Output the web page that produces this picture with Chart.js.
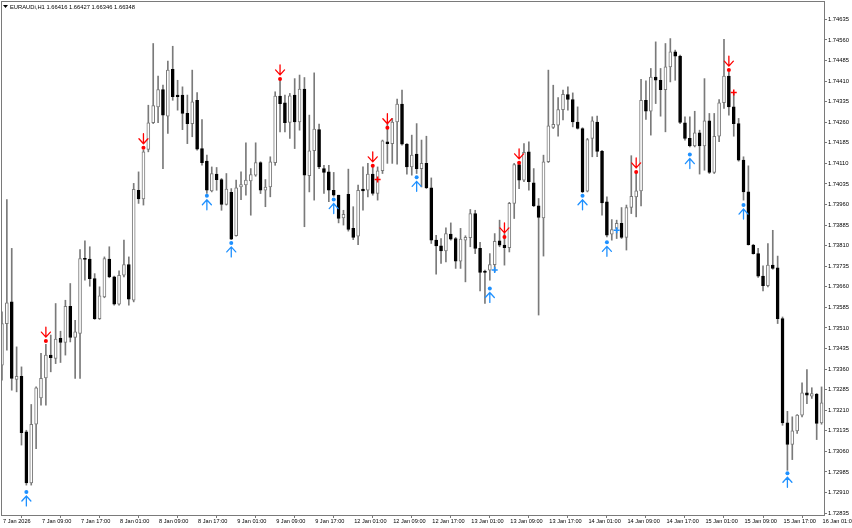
<!DOCTYPE html>
<html>
<head>
<meta charset="utf-8">
<script src="https://cdn.jsdelivr.net/npm/chart.js@4.4.1/dist/chart.umd.min.js"></script>
<style>
  html, body { margin: 0; padding: 0; background: #fff; }
</style>
</head>
<body>
<canvas id="chart" width="852" height="528"></canvas>
<script>
// EURAUDi H1 candles (bar 0 = 7 Jan 01:00, bar 168 = 16 Jan 01:00)
const opens = [
  1.73374, 1.73526, 1.73605, 1.73322, 1.73334, 1.73131, 1.72945, 1.73159, 1.73255, 1.73328,
  1.73411, 1.73399, 1.73472, 1.73457, 1.73589, 1.73475, 1.73490, 1.73763, 1.73761, 1.73690,
  1.73544, 1.73623, 1.73761, 1.73696, 1.73597, 1.73702, 1.73741, 1.73611, 1.74012, 1.73980,
  1.74161, 1.74258, 1.74316, 1.74379, 1.74282, 1.74453, 1.74359, 1.74359, 1.74292, 1.74255,
  1.74340, 1.74164, 1.74118, 1.74010, 1.74071, 1.74051, 1.73960, 1.74004, 1.73846, 1.74024,
  1.74031, 1.74046, 1.74067, 1.74113, 1.74012, 1.74024, 1.74113, 1.74355, 1.74331, 1.74259,
  1.74359, 1.74261, 1.74381, 1.74065, 1.74156, 1.74233, 1.74091, 1.74079, 1.74012, 1.73994,
  1.73911, 1.73997, 1.73873, 1.73845, 1.74016, 1.74012, 1.74071, 1.74000, 1.74083, 1.74189,
  1.74182, 1.74261, 1.74326, 1.74180, 1.74097, 1.74144, 1.74091, 1.74110, 1.74021, 1.73830,
  1.73809, 1.73791, 1.73852, 1.73836, 1.73753, 1.73830, 1.73839, 1.73927, 1.73800, 1.73717,
  1.73721, 1.73741, 1.73828, 1.73812, 1.73803, 1.73964, 1.74106, 1.74049, 1.74152, 1.74039,
  1.73955, 1.73911, 1.74116, 1.74241, 1.74249, 1.74306, 1.74361, 1.74343, 1.74261, 1.74237,
  1.74009, 1.74201, 1.74261, 1.74154, 1.73970, 1.73852, 1.73873, 1.73891, 1.73840, 1.73949,
  1.73988, 1.74010, 1.74340, 1.74300, 1.74425, 1.74413, 1.74379, 1.74462, 1.74517, 1.74501,
  1.74258, 1.74201, 1.74174, 1.74221, 1.74174, 1.74265, 1.74077, 1.74209, 1.74331, 1.74428,
  1.74316, 1.74255, 1.74122, 1.74006, 1.73812, 1.73781, 1.73699, 1.73664, 1.73739, 1.73729,
  1.73544, 1.73164, 1.73085, 1.73135, 1.73192, 1.73273, 1.73261, 1.73269, 1.73164
]
const highs = [
  1.73569, 1.73978, 1.73800, 1.73441, 1.73368, 1.73137, 1.73231, 1.73295, 1.73417, 1.73450,
  1.73484, 1.73599, 1.73498, 1.73611, 1.73672, 1.73538, 1.73796, 1.73828, 1.73806, 1.73708,
  1.73660, 1.73769, 1.73806, 1.73699, 1.73718, 1.73830, 1.73769, 1.74037, 1.74079, 1.74158,
  1.74322, 1.74547, 1.74428, 1.74395, 1.74483, 1.74537, 1.74413, 1.74389, 1.74359, 1.74450,
  1.74368, 1.74270, 1.74140, 1.74097, 1.74095, 1.74055, 1.74073, 1.74018, 1.74049, 1.74079,
  1.74185, 1.74091, 1.74185, 1.74116, 1.74051, 1.74134, 1.74371, 1.74413, 1.74359, 1.74365,
  1.74419, 1.74432, 1.74423, 1.74286, 1.74440, 1.74253, 1.74103, 1.74103, 1.74077, 1.73994,
  1.73939, 1.74089, 1.73952, 1.74031, 1.74097, 1.74110, 1.74097, 1.74097, 1.74195, 1.74253,
  1.74274, 1.74344, 1.74377, 1.74182, 1.74213, 1.74255, 1.74195, 1.74209, 1.74057, 1.73848,
  1.73836, 1.73875, 1.73893, 1.73840, 1.73873, 1.73846, 1.73942, 1.73939, 1.73822, 1.73721,
  1.73781, 1.73854, 1.73903, 1.73854, 1.73968, 1.74110, 1.74112, 1.74182, 1.74189, 1.74091,
  1.73982, 1.74140, 1.74450, 1.74395, 1.74350, 1.74377, 1.74389, 1.74367, 1.74316, 1.74240,
  1.74201, 1.74280, 1.74282, 1.74158, 1.73988, 1.73905, 1.73903, 1.73949, 1.73958, 1.74138,
  1.74079, 1.74416, 1.74411, 1.74456, 1.74553, 1.74456, 1.74547, 1.74565, 1.74523, 1.74505,
  1.74280, 1.74280, 1.74300, 1.74231, 1.74419, 1.74292, 1.74292, 1.74343, 1.74562, 1.74444,
  1.74365, 1.74274, 1.74134, 1.74101, 1.73815, 1.73800, 1.73736, 1.73818, 1.73866, 1.73772,
  1.73550, 1.73206, 1.73186, 1.73194, 1.73310, 1.73358, 1.73292, 1.73271, 1.73295
]
const lows = [
  1.73320, 1.73429, 1.73283, 1.73277, 1.73083, 1.72937, 1.72937, 1.73070, 1.73228, 1.73228,
  1.73350, 1.73380, 1.73384, 1.73411, 1.73459, 1.73326, 1.73326, 1.73684, 1.73662, 1.73541,
  1.73541, 1.73620, 1.73693, 1.73593, 1.73593, 1.73696, 1.73593, 1.73605, 1.73964, 1.73958,
  1.74152, 1.74255, 1.74258, 1.74091, 1.74219, 1.74340, 1.74304, 1.74233, 1.74182, 1.74207,
  1.74158, 1.74103, 1.74000, 1.74006, 1.74012, 1.73939, 1.73958, 1.73832, 1.73845, 1.73978,
  1.73994, 1.73921, 1.74063, 1.74000, 1.73952, 1.73988, 1.74103, 1.74225, 1.74225, 1.74201,
  1.74164, 1.74231, 1.73879, 1.74006, 1.73976, 1.74091, 1.74000, 1.73970, 1.73990, 1.73893,
  1.73885, 1.73863, 1.73832, 1.73814, 1.73939, 1.73988, 1.73994, 1.73976, 1.74073, 1.74110,
  1.74110, 1.74107, 1.74176, 1.74071, 1.74067, 1.74073, 1.74024, 1.74018, 1.73818, 1.73706,
  1.73745, 1.73751, 1.73830, 1.73727, 1.73727, 1.73678, 1.73806, 1.73781, 1.73645, 1.73599,
  1.73684, 1.73715, 1.73806, 1.73739, 1.73787, 1.73909, 1.74018, 1.74043, 1.74012, 1.73952,
  1.73557, 1.73772, 1.74113, 1.74237, 1.74209, 1.74268, 1.74304, 1.74243, 1.74235, 1.74003,
  1.74006, 1.74134, 1.74134, 1.73921, 1.73842, 1.73830, 1.73836, 1.73836, 1.73794, 1.73927,
  1.73915, 1.73955, 1.74270, 1.74213, 1.74328, 1.74282, 1.74225, 1.74407, 1.74413, 1.74255,
  1.74195, 1.74170, 1.74170, 1.74071, 1.74085, 1.74073, 1.74073, 1.74189, 1.74310, 1.74286,
  1.74209, 1.74118, 1.73976, 1.73812, 1.73779, 1.73694, 1.73645, 1.73660, 1.73724, 1.73526,
  1.73155, 1.72991, 1.73030, 1.73125, 1.73186, 1.73234, 1.73253, 1.73103, 1.73159
]
const closes = [
  1.73526, 1.73602, 1.73326, 1.73334, 1.73128, 1.72945, 1.73159, 1.73292, 1.73326, 1.73411,
  1.73402, 1.73469, 1.73457, 1.73589, 1.73475, 1.73496, 1.73763, 1.73760, 1.73690, 1.73544,
  1.73627, 1.73763, 1.73696, 1.73597, 1.73702, 1.73741, 1.73615, 1.74015, 1.73980, 1.74152,
  1.74258, 1.74321, 1.74379, 1.74286, 1.74450, 1.74353, 1.74353, 1.74292, 1.74255, 1.74334,
  1.74162, 1.74113, 1.74012, 1.74073, 1.74051, 1.73960, 1.74016, 1.73834, 1.74021, 1.74033,
  1.74049, 1.74069, 1.74113, 1.74012, 1.74024, 1.74116, 1.74355, 1.74328, 1.74258, 1.74356,
  1.74261, 1.74381, 1.74067, 1.74156, 1.74235, 1.74097, 1.74077, 1.74012, 1.73994, 1.73909,
  1.73924, 1.73869, 1.73840, 1.74012, 1.74010, 1.74071, 1.74000, 1.74083, 1.74192, 1.74182,
  1.74261, 1.74326, 1.74180, 1.74097, 1.74140, 1.74091, 1.74110, 1.74021, 1.73830, 1.73809,
  1.73791, 1.73854, 1.73834, 1.73753, 1.73834, 1.73840, 1.73927, 1.73800, 1.73712, 1.73712,
  1.73741, 1.73826, 1.73812, 1.73803, 1.73964, 1.74106, 1.74049, 1.74150, 1.74043, 1.73955,
  1.73913, 1.74116, 1.74247, 1.74252, 1.74306, 1.74362, 1.74343, 1.74261, 1.74237, 1.74006,
  1.74197, 1.74265, 1.74154, 1.73966, 1.73848, 1.73869, 1.73891, 1.73840, 1.73949, 1.73990,
  1.74010, 1.74340, 1.74300, 1.74425, 1.74413, 1.74379, 1.74462, 1.74517, 1.74501, 1.74259,
  1.74201, 1.74174, 1.74221, 1.74174, 1.74265, 1.74077, 1.74209, 1.74331, 1.74428, 1.74316,
  1.74255, 1.74122, 1.74006, 1.73814, 1.73781, 1.73699, 1.73664, 1.73739, 1.73727, 1.73544,
  1.73164, 1.73085, 1.73135, 1.73192, 1.73273, 1.73265, 1.73271, 1.73162, 1.73237
]

// indicator marks: red = sell dot + down arrow, blue = buy dot + up arrow
const sellBars = [9, 29, 57, 76, 79, 103, 106, 130, 149]
const sellDots = [1.73462, 1.74167, 1.74418, 1.74101, 1.74240, 1.73842, 1.74112, 1.74079, 1.74450]
const buyBars = [5, 42, 47, 68, 85, 100, 119, 124, 141, 152, 161]
const buyDots = [1.72912, 1.73992, 1.73820, 1.73978, 1.74059, 1.73654, 1.73992, 1.73822, 1.74142, 1.73958, 1.72980]
const sellCrossBars = [77, 150]
const sellCross = [1.74051, 1.74368]
const buyCrossBars = [101, 126]
const buyCross = [1.73721, 1.73866]

const yTicks = [1.74635, 1.74560, 1.74485, 1.74410, 1.74335, 1.74260, 1.74185, 1.74110, 1.74035,
  1.73960, 1.73885, 1.73810, 1.73735, 1.73660, 1.73585, 1.73510, 1.73435, 1.73360, 1.73285,
  1.73210, 1.73135, 1.73060, 1.72985, 1.72910, 1.72835]
const xTickLabels = ['7 Jan 2026', '7 Jan 09:00', '7 Jan 17:00', '8 Jan 01:00', '8 Jan 09:00',
  '8 Jan 17:00', '9 Jan 01:00', '9 Jan 09:00', '9 Jan 17:00', '12 Jan 01:00', '12 Jan 09:00',
  '12 Jan 17:00', '13 Jan 01:00', '13 Jan 09:00', '13 Jan 17:00', '14 Jan 01:00', '14 Jan 09:00',
  '14 Jan 17:00', '15 Jan 01:00', '15 Jan 09:00', '15 Jan 17:00', '16 Jan 01:00']
const barsPerLabel = 8
const headerText = 'EURAUDi,H1 1.66416 1.66427 1.66346 1.66348'

const FONT = 'Liberation Sans, Arial, sans-serif'
const GREY = '#7a7a7a'
const RED = '#ff0000'
const BLUE = '#1e90ff'

const wickData = opens.map((o, i) => ({x: i, y: [lows[i], highs[i]]}))
const bodyData = opens.map((o, i) => ({x: i, y: [Math.min(o, closes[i]), Math.max(o, closes[i])]}))
const isUp = opens.map((o, i) => closes[i] >= o)

function marks(bars, vals) {
  return bars.map((b, k) => ({x: b, y: vals[k]}))
}

// arrows are drawn next to the dots, frame + header on top
const extras = {
  id: 'extras',
  afterDatasetsDraw(chart) {
    const ctx = chart.ctx
    ctx.save()
    ctx.lineWidth = 1.3
    ctx.lineCap = 'round'
    chart.getDatasetMeta(2).data.forEach(p => { // sell -> down arrow above dot
      const x = p.x, y = p.y
      ctx.strokeStyle = RED
      ctx.beginPath()
      ctx.moveTo(x, y - 14); ctx.lineTo(x, y - 4)
      ctx.moveTo(x - 4.5, y - 9); ctx.lineTo(x, y - 4); ctx.lineTo(x + 4.5, y - 9)
      ctx.stroke()
    })
    chart.getDatasetMeta(3).data.forEach(p => { // buy -> up arrow below dot
      const x = p.x, y = p.y
      ctx.strokeStyle = BLUE
      ctx.beginPath()
      ctx.moveTo(x, y + 4); ctx.lineTo(x, y + 14)
      ctx.moveTo(x - 4.5, y + 9); ctx.lineTo(x, y + 4); ctx.lineTo(x + 4.5, y + 9)
      ctx.stroke()
    })
    ctx.restore()
  },
  afterDraw(chart) {
    const ctx = chart.ctx
    const a = chart.chartArea
    ctx.save()
    ctx.strokeStyle = GREY
    ctx.lineWidth = 1
    ctx.strokeRect(a.left + 0.5, a.top + 0.5, a.right - a.left, a.bottom - a.top)
    // little triangle + symbol line
    ctx.fillStyle = '#000'
    ctx.beginPath()
    ctx.moveTo(3, 5); ctx.lineTo(8, 5); ctx.lineTo(5.5, 8); ctx.closePath()
    ctx.fill()
    ctx.font = '5.8px ' + FONT
    ctx.textBaseline = 'middle'
    ctx.fillText(headerText, 10, 7)
    ctx.restore()
  }
}

new Chart(document.getElementById('chart'), {
  type: 'bar',
  data: {
    datasets: [
      {
        label: 'wicks',
        data: wickData,
        backgroundColor: GREY,
        barThickness: 1,
        grouped: false,
        order: 3
      },
      {
        label: 'bodies',
        data: bodyData,
        backgroundColor: isUp.map(u => u ? '#ffffff' : '#000000'),
        borderColor: isUp.map(u => u ? GREY : '#000000'),
        borderWidth: 1,
        borderSkipped: false,
        barThickness: 3,
        minBarLength: 1,
        grouped: false,
        order: 2
      },
      {
        label: 'sell',
        type: 'line',
        data: marks(sellBars, sellDots),
        showLine: false,
        pointRadius: 2,
        pointBackgroundColor: RED,
        pointBorderWidth: 0,
        order: 1
      },
      {
        label: 'buy',
        type: 'line',
        data: marks(buyBars, buyDots),
        showLine: false,
        pointRadius: 2,
        pointBackgroundColor: BLUE,
        pointBorderWidth: 0,
        order: 1
      },
      {
        label: 'sellCross',
        type: 'line',
        data: marks(sellCrossBars, sellCross),
        showLine: false,
        pointStyle: 'cross',
        pointRadius: 3,
        pointBorderColor: RED,
        pointBorderWidth: 1.5,
        order: 0
      },
      {
        label: 'buyCross',
        type: 'line',
        data: marks(buyCrossBars, buyCross),
        showLine: false,
        pointStyle: 'cross',
        pointRadius: 3,
        pointBorderColor: BLUE,
        pointBorderWidth: 1.5,
        order: 0
      }
    ]
  },
  options: {
    responsive: false,
    animation: false,
    layout: {autoPadding: false, padding: {left: 1, top: 1, right: 0, bottom: 0}},
    plugins: {legend: {display: false}, tooltip: {enabled: false}},
    scales: {
      x: {
        type: 'linear',
        min: -0.2,
        max: 168.5,
        offset: false,
        border: {display: false},
        grid: {drawOnChartArea: false, drawTicks: true, tickLength: 3, tickColor: GREY},
        ticks: {
          autoSkip: false,
          maxRotation: 0,
          minRotation: 0,
          align: 'start',
          labelOffset: 1,
          padding: 0,
          color: '#000',
          font: {family: FONT, size: 5.6},
          callback: v => xTickLabels[v / barsPerLabel]
        },
        afterBuildTicks: axis => {
          axis.ticks = xTickLabels.map((t, k) => ({value: k * barsPerLabel}))
        },
        afterFit: axis => {
          axis.height = 13
          axis.paddingLeft = 0; axis.paddingRight = 0
        }
      },
      y: {
        position: 'right',
        min: 1.72828,
        max: 1.74702,
        border: {display: false},
        grid: {drawOnChartArea: false, drawTicks: true, tickLength: 3, tickColor: GREY},
        ticks: {
          padding: 1,
          color: '#000',
          font: {family: FONT, size: 5.8},
          callback: v => v.toFixed(5)
        },
        afterBuildTicks: axis => {
          axis.ticks = yTicks.map(v => ({value: v}))
        },
        afterFit: axis => {
          axis.width = 28
          axis.paddingTop = 0; axis.paddingBottom = 0
        }
      }
    }
  },
  plugins: [extras]
})
</script>
</body>
</html>
